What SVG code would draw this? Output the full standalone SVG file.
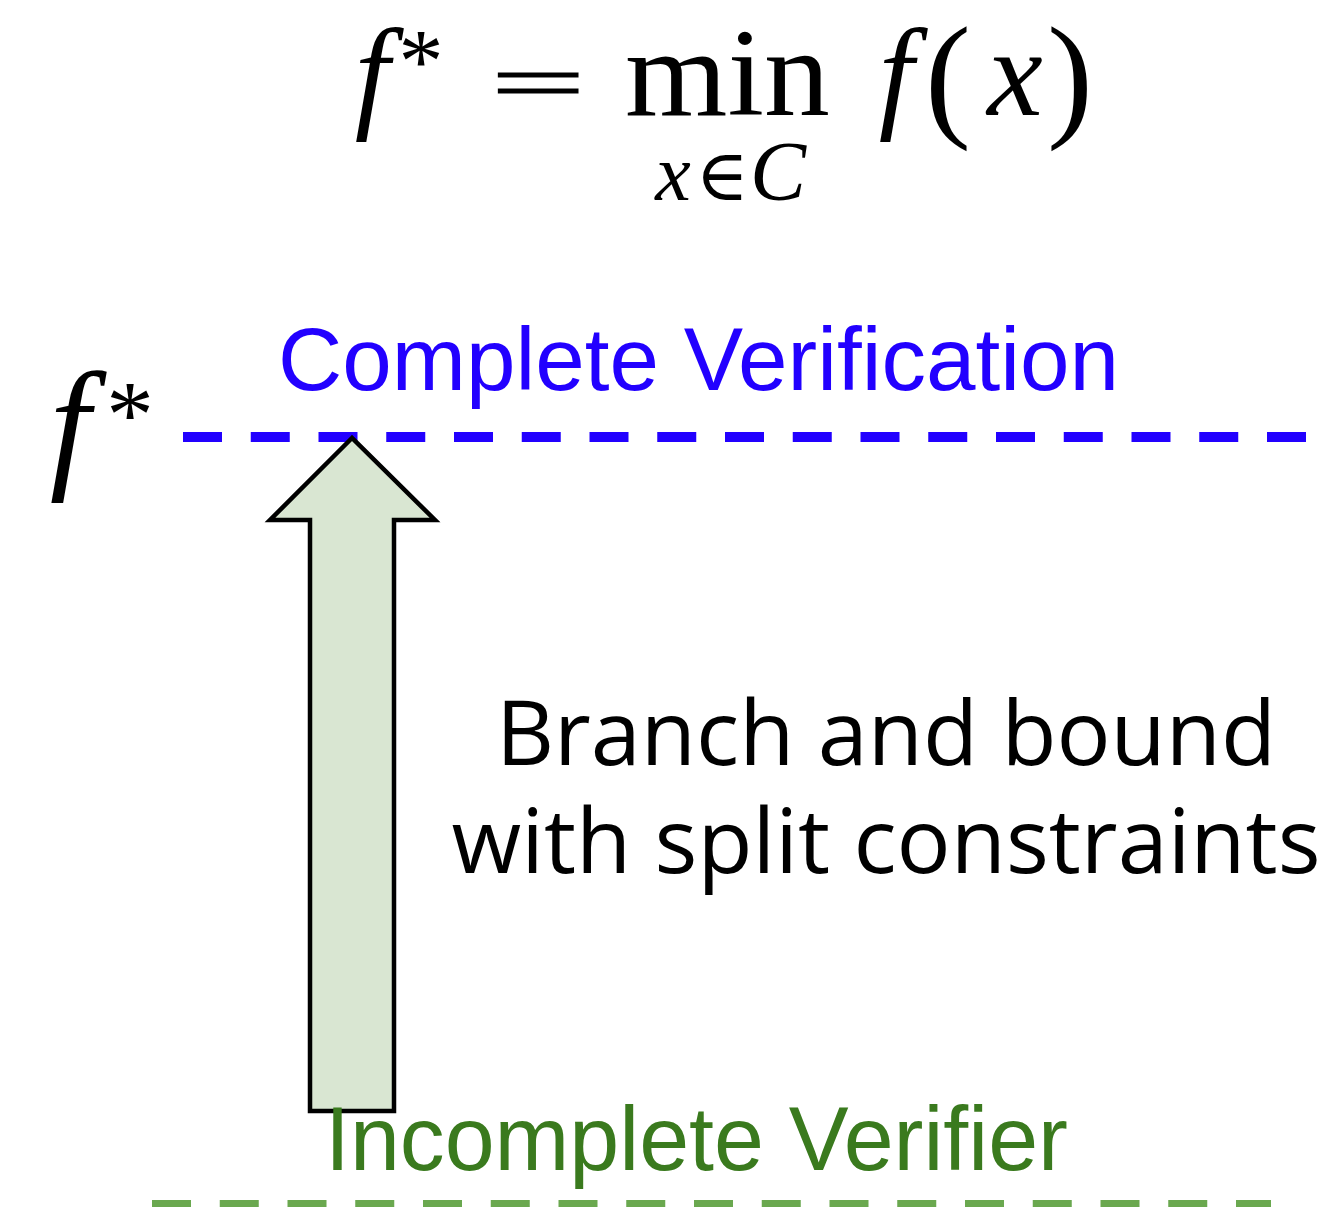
<svg xmlns="http://www.w3.org/2000/svg" width="1338" height="1207" viewBox="0 0 1338 1207">
<style>
.math{font-family:"Liberation Serif","DejaVu Serif",serif;fill:#000}
.it{font-style:italic}
.sans{font-family:"Liberation Sans",Arial,sans-serif}
.open{font-family:"Open Sans","Noto Sans",sans-serif;fill:#000}
.dash{fill:none;stroke-width:10;stroke-dasharray:39 28.75}
</style>
<rect width="1338" height="1207" fill="#fff"/>
<g id="formula">
<text class="math it" x="372" y="115" font-size="125" text-anchor="middle">f</text>
<text class="math" x="421" y="92" font-size="90" text-anchor="middle">*</text>
<text class="math" transform="translate(538,110) scale(2.1,1)" x="0" y="0" font-size="80" text-anchor="middle" stroke="#000" stroke-width="1.2">=</text>
<text class="math" x="625" y="115" font-size="125" textLength="205" lengthAdjust="spacingAndGlyphs">min</text>
<text class="math it" x="673" y="200" font-size="80" text-anchor="middle">x</text>
<text class="math" x="722" y="200" font-size="72" text-anchor="middle" font-family="DejaVu Serif">∈</text>
<text class="math it" x="778" y="200" font-size="84" text-anchor="middle">C</text>
<text class="math it" x="896" y="115" font-size="125" text-anchor="middle">f</text>
<text class="math" x="948" y="122" font-size="138" text-anchor="middle">(</text>
<text class="math it" x="1015" y="115" font-size="125" text-anchor="middle">x</text>
<text class="math" x="1070" y="122" font-size="138" text-anchor="middle">)</text>
</g>
<g id="fstar-label">
<text class="math it" x="70" y="472" font-size="145" text-anchor="middle">f</text>
<text class="math" x="130" y="447" font-size="95" text-anchor="middle">*</text>
</g>
<g id="complete-level">
<line class="dash" x1="183" y1="437" x2="1306" y2="437" stroke="#2200ff"/>
</g>
<g id="incomplete-level">
<line class="dash" x1="152" y1="1205" x2="1271" y2="1205" stroke="#6aa84f"/>
</g>
<g id="connectors">
<polygon id="bab-arrow" points="352,438 270,520 310,520 310,1111 394,1111 394,520 435,520" fill="#d9e6d2" stroke="#000" stroke-width="4.5" stroke-linejoin="miter"/>
</g>
<g id="complete-label">
<text class="sans" x="278" y="390" font-size="89" fill="#2200ff">Complete Verification</text>
</g>
<g id="bab-label">
<text class="open" x="886" y="765" font-size="90" text-anchor="middle">Branch and bound</text>
<text class="open" x="886" y="873" font-size="90" text-anchor="middle">with split constraints</text>
</g>
<g id="incomplete-label">
<text class="sans" x="325" y="1170" font-size="90" fill="#3a7a1e" textLength="743" lengthAdjust="spacingAndGlyphs">Incomplete Verifier</text>
</g>
</svg>
